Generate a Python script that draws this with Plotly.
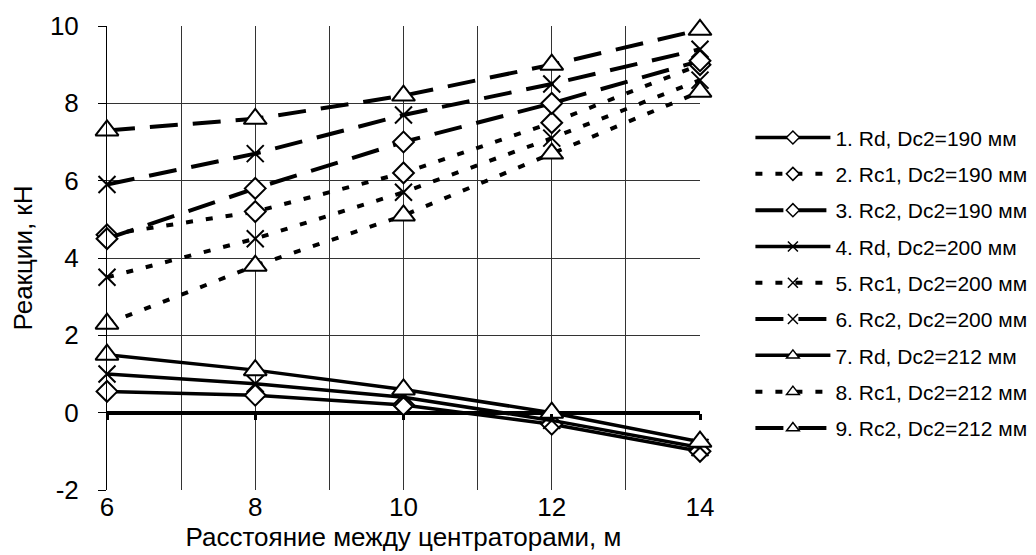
import plotly.graph_objects as go

x_vals = [6, 8, 10, 12, 14]
y_tick_vals = [-2, 0, 2, 4, 6, 8, 10]
y_tick_text = ["-2", "0", "2", "4", "6", "8", "10"]

names = [
    "1. Rd, Dc2=190 мм", "2. Rc1, Dc2=190 мм", "3. Rc2, Dc2=190 мм",
    "4. Rd, Dc2=200 мм", "5. Rc1, Dc2=200 мм", "6. Rc2, Dc2=200 мм",
    "7. Rd, Dc2=212 мм", "8. Rc1, Dc2=212 мм", "9. Rc2, Dc2=212 мм",
]

rd_190 = [0.55, 0.45, 0.2, -0.3, -1.0]
rc1_190 = [4.6, 5.2, 6.2, 7.5, 9.0]
rc2_190 = [4.5, 5.8, 7.0, 8.0, 9.1]
rd_200 = [1.0, 0.75, 0.4, -0.2, -0.9]
rc1_200 = [3.5, 4.5, 5.7, 7.1, 8.6]
rc2_200 = [5.9, 6.7, 7.7, 8.5, 9.4]
rd_212 = [1.5, 1.1, 0.6, 0.0, -0.75]
rc1_212 = [2.3, 3.8, 5.1, 6.7, 8.3]
rc2_212 = [7.3, 7.6, 8.2, 9.0, 9.9]

series = [rd_190, rc1_190, rc2_190, rd_200, rc1_200, rc2_200, rd_212, rc1_212, rc2_212]
symbols = ["diamond"] * 3 + ["x-thin"] * 3 + ["triangle-up"] * 3
kinds = ["rd", "rc1", "rc2"] * 3

dash_map = {"rd": "solid", "rc1": "7px,13px", "rc2": "28px,15px"}
width_map = {"rd": 3.5, "rc1": 4, "rc2": 4}
size_map = {"diamond": 16, "x-thin": 17, "triangle-up": 20}
leg_size_map = {"diamond": 10, "x-thin": 10, "triangle-up": 11}

font_family = "Liberation Sans, Arial, sans-serif"

fig = go.Figure()
for i, (nm, ys, sym, kd) in enumerate(zip(names, series, symbols, kinds)):
    fig.add_trace(go.Scatter(
        x=x_vals, y=ys, name=nm, mode="lines+markers",
        showlegend=False, cliponaxis=False,
        line=dict(color="black", width=width_map[kd], dash=dash_map[kd]),
        marker=dict(symbol=sym, size=size_map[sym], color="white",
                    line=dict(color="black", width=2)),
    ))

# legend entries (smaller markers, like the original legend)
for i, (nm, sym, kd) in enumerate(zip(names, symbols, kinds)):
    fig.add_trace(go.Scatter(
        x=[None], y=[None], name=nm, mode="lines+markers",
        legendgroup=f"g{i}", showlegend=True, hoverinfo="skip",
        line=dict(color="black", width=width_map[kd], dash=dash_map[kd]),
        marker=dict(symbol=sym, size=leg_size_map[sym], color="white",
                    line=dict(color="black", width=1.5)),
    ))

# helper invisible trace for the axis crossing at zero
fig.add_trace(go.Scatter(x=x_vals, y=[None] * len(x_vals), xaxis="x2",
                         showlegend=False, hoverinfo="skip", mode="lines"))

fig.update_layout(
    width=1028, height=547,
    margin=dict(l=99, r=336, t=18, b=65, autoexpand=False),
    paper_bgcolor="white", plot_bgcolor="white",
    font=dict(family=font_family, color="black"),
    showlegend=True,
    legend=dict(
        x=1.085, y=0.803, xanchor="left", yanchor="top",
        font=dict(size=21, family=font_family),
        traceorder="grouped", tracegroupgap=6, itemwidth=75,
        bgcolor="rgba(0,0,0,0)",
    ),
    xaxis=dict(
        range=[6, 14], tickvals=x_vals, automargin=False,
        showgrid=True, gridcolor="#333", gridwidth=1,
        minor=dict(dtick=1, tick0=6, showgrid=True, gridcolor="#333", gridwidth=1),
        showline=False, ticks="", zeroline=False,
        tickfont=dict(size=26), ticklabelstandoff=-1,
        title=dict(text="Расстояние между центраторами, м", font=dict(size=26), standoff=6),
    ),
    xaxis2=dict(
        range=[6, 14], overlaying="x", anchor="free", position=2 / 12, side="bottom",
        tickvals=x_vals, ticks="outside", ticklen=6, tickwidth=3, automargin=False,
        tickcolor="black", showticklabels=False, showgrid=False, showline=False,
        zeroline=False,
    ),
    yaxis=dict(
        range=[-2, 10], tickvals=y_tick_vals, ticktext=y_tick_text, automargin=False,
        showgrid=True, gridcolor="#333", gridwidth=1,
        showline=True, linecolor="black", linewidth=1,
        ticks="outside", ticklen=8, tickcolor="black",
        zeroline=True, zerolinecolor="black", zerolinewidth=4,
        tickfont=dict(size=26), ticklabelstandoff=14,
        title=dict(text="Реакции, кН", font=dict(size=26), standoff=12),
    ),
)

fig.write_html("out.html")
